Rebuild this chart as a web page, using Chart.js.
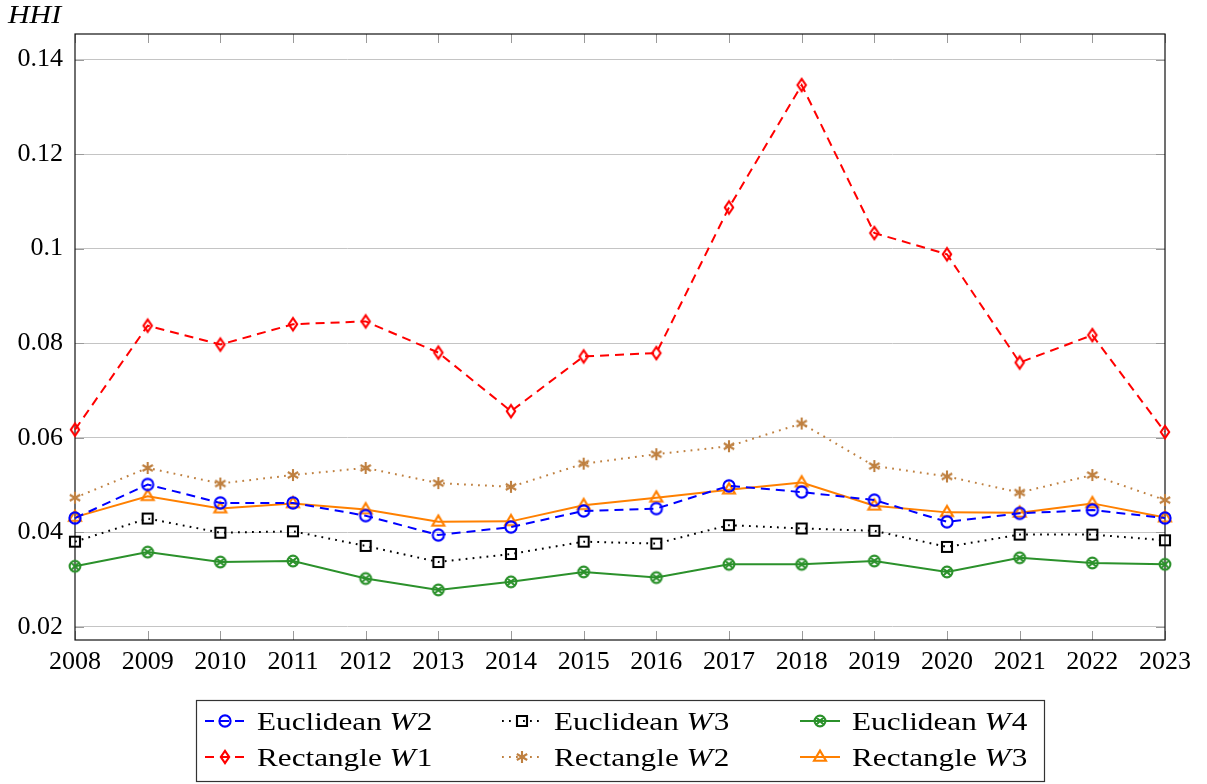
<!DOCTYPE html>
<html>
<head>
<meta charset="utf-8">
<script src="https://cdn.jsdelivr.net/npm/chart.js@4/dist/chart.umd.min.js"></script>
<style>
  html, body { margin: 0; background: #fff; }
</style>
</head>
<body>
<canvas id="hhiChart" width="1207" height="784"></canvas>
<script>
const years = ['2008', '2009', '2010', '2011', '2012', '2013', '2014', '2015',
               '2016', '2017', '2018', '2019', '2020', '2021', '2022', '2023'];

const euclidW2  = [0.0430, 0.0501, 0.0462, 0.0462, 0.0435, 0.0394, 0.0411, 0.0445, 0.0450, 0.0498, 0.0485, 0.0468, 0.0422, 0.0440, 0.0447, 0.0430];
const euclidW3  = [0.0380, 0.0429, 0.0399, 0.0402, 0.0371, 0.0337, 0.0354, 0.0380, 0.0376, 0.0415, 0.0408, 0.0403, 0.0369, 0.0395, 0.0395, 0.0383];
const euclidW4  = [0.0328, 0.0358, 0.0337, 0.0339, 0.0302, 0.0278, 0.0295, 0.0316, 0.0304, 0.0332, 0.0332, 0.0339, 0.0316, 0.0346, 0.0335, 0.0332];
const rectW1    = [0.0617, 0.0837, 0.0797, 0.0840, 0.0846, 0.0780, 0.0656, 0.0772, 0.0779, 0.1087, 0.1346, 0.1033, 0.0988, 0.0759, 0.0817, 0.0612];
const rectW2    = [0.0473, 0.0536, 0.0503, 0.0521, 0.0536, 0.0504, 0.0496, 0.0545, 0.0565, 0.0582, 0.0630, 0.0540, 0.0518, 0.0484, 0.0521, 0.0468];
const rectW3    = [0.0432, 0.0476, 0.0450, 0.0461, 0.0448, 0.0422, 0.0423, 0.0457, 0.0473, 0.0490, 0.0505, 0.0456, 0.0442, 0.0441, 0.0461, 0.0431];

const yTicks      = [0.02, 0.04, 0.06, 0.08, 0.1, 0.12, 0.14];
const yTickLabels = ['0.02', '0.04', '0.06', '0.08', '0.1', '0.12', '0.14'];

const SERIF = "'Liberation Serif', 'DejaVu Serif', serif";

// pgfplots-like unfilled markers drawn on small canvases
function makeMarker(kind, color) {
  const c = document.createElement('canvas');
  c.width = 22; c.height = 22;
  const g = c.getContext('2d');
  g.strokeStyle = color;
  g.lineWidth = 2.1;
  g.beginPath();
  if (kind === 'circle') {
    g.arc(11, 11, 5.6, 0, Math.PI * 2);
  } else if (kind === 'square') {
    g.rect(6, 6, 10, 10);
  } else if (kind === 'otimes') {
    g.arc(11, 11, 5.4, 0, Math.PI * 2);
    const d = 5.4 * Math.SQRT1_2;
    g.moveTo(11 - d, 11 - d); g.lineTo(11 + d, 11 + d);
    g.moveTo(11 + d, 11 - d); g.lineTo(11 - d, 11 + d);
  } else if (kind === 'diamond') {
    g.moveTo(11, 4.8); g.lineTo(15.2, 11); g.lineTo(11, 17.2); g.lineTo(6.8, 11); g.closePath();
  } else if (kind === 'asterisk') {
    for (let i = 0; i < 3; i++) {
      const a = Math.PI / 2 + i * Math.PI / 3;
      g.moveTo(11 + 6 * Math.cos(a), 11 - 6 * Math.sin(a));
      g.lineTo(11 - 6 * Math.cos(a), 11 + 6 * Math.sin(a));
    }
  } else if (kind === 'triangle') {
    g.moveTo(11, 4.6); g.lineTo(17, 14.8); g.lineTo(5, 14.8); g.closePath();
  }
  g.stroke();
  return c;
}

const series = [
  { label: 'Euclidean ', sub: '2', data: euclidW2, color: '#0000ff', dash: [9, 6],     marker: 'circle' },
  { label: 'Euclidean ', sub: '3', data: euclidW3, color: '#000000', dash: [1.8, 5.2], marker: 'square' },
  { label: 'Euclidean ', sub: '4', data: euclidW4, color: '#2b912b', dash: [],         marker: 'otimes' },
  { label: 'Rectangle ', sub: '1', data: rectW1,   color: '#ff0000', dash: [9, 6],     marker: 'diamond' },
  { label: 'Rectangle ', sub: '2', data: rectW2,   color: '#bf8040', dash: [1.8, 5.2], marker: 'asterisk' },
  { label: 'Rectangle ', sub: '3', data: rectW3,   color: '#ff8000', dash: [],         marker: 'triangle' }
];
series.forEach(s => { s.img = makeMarker(s.marker, s.color); });

// draws text stretched sideways a bit, closer to Computer Modern widths
function wideText(ctx, parts, x, y, stretch) {
  ctx.save();
  ctx.translate(x, y);
  ctx.scale(stretch, 1);
  let tx = 0;
  parts.forEach(([txt, font, gap]) => {
    ctx.font = font;
    ctx.fillText(txt, tx, 0);
    tx += ctx.measureText(txt).width + (gap || 0);
  });
  ctx.restore();
}

// axis frame, inward ticks, y label, and the boxed legend
const texFrame = {
  id: 'texFrame',
  beforeDatasetsDraw(chart) {
    const { ctx, chartArea: a, scales } = chart;
    ctx.save();
    ctx.strokeStyle = '#9a9a9a';
    ctx.lineWidth = 1;
    ctx.beginPath();
    yTicks.forEach(v => {
      const y = Math.round(scales.y.getPixelForValue(v)) + 0.5;
      ctx.moveTo(a.left, y); ctx.lineTo(a.left + 9, y);
      ctx.moveTo(a.right, y); ctx.lineTo(a.right - 9, y);
    });
    years.forEach((_, i) => {
      const x = Math.round(scales.x.getPixelForValue(i)) + 0.5;
      ctx.moveTo(x, a.top); ctx.lineTo(x, a.top + 9);
      ctx.moveTo(x, a.bottom); ctx.lineTo(x, a.bottom - 9);
    });
    ctx.stroke();
    ctx.strokeStyle = '#111';
    ctx.lineWidth = 1.2;
    ctx.strokeRect(a.left, a.top, a.right - a.left, a.bottom - a.top);
    ctx.restore();
  },
  afterDraw(chart) {
    const ctx = chart.ctx;
    ctx.save();
    ctx.fillStyle = '#000';
    ctx.textBaseline = 'alphabetic';
    wideText(ctx, [['HHI', 'italic 26px ' + SERIF]], 8, 23, 1.15);

    // legend box
    ctx.fillStyle = '#fff';
    ctx.fillRect(196, 700, 849, 82);
    ctx.strokeStyle = '#333';
    ctx.lineWidth = 1.2;
    ctx.strokeRect(196.5, 700.5, 848, 81);

    const colX = [205, 502, 800];
    const rowY = [721, 757];
    series.forEach((s, i) => {
      const x0 = colX[i % 3];
      const y0 = rowY[Math.floor(i / 3)];
      ctx.strokeStyle = s.color;
      ctx.lineWidth = 2;
      ctx.setLineDash(s.dash);
      ctx.beginPath();
      ctx.moveTo(x0, y0); ctx.lineTo(x0 + 40, y0);
      ctx.stroke();
      ctx.setLineDash([]);
      ctx.drawImage(s.img, x0 + 9, y0 - 11);

      ctx.fillStyle = '#000';
      wideText(ctx, [
        [s.label, '26px ' + SERIF],
        ['W', 'italic 26px ' + SERIF, 1],
        [s.sub, '26px ' + SERIF]
      ], x0 + 52, y0 + 9, 1.2);
    });
    ctx.restore();
  }
};

new Chart(document.getElementById('hhiChart'), {
  type: 'line',
  data: {
    labels: years,
    datasets: series.map(s => ({
      label: s.label + 'W' + s.sub,
      data: s.data,
      borderColor: s.color,
      backgroundColor: 'transparent',
      borderWidth: 2,
      borderDash: s.dash,
      tension: 0,
      pointStyle: s.img,
      pointRadius: 6,
      clip: false
    }))
  },
  options: {
    responsive: false,
    animation: false,
    layout: { padding: { left: 0, top: 34, right: 42, bottom: 104 } },
    plugins: { legend: { display: false }, tooltip: { enabled: false } },
    scales: {
      x: {
        type: 'category',
        offset: false,
        grid: { display: false, drawTicks: false },
        border: { display: false },
        ticks: { color: '#000', font: { family: SERIF, size: 26 }, padding: 7, maxRotation: 0, autoSkip: false },
        afterFit(s) { s.height = 40; }
      },
      y: {
        min: 0.0172,
        max: 0.1454,
        afterBuildTicks(s) { s.ticks = yTicks.map(v => ({ value: v })); },
        grid: { color: '#c4c4c4', lineWidth: 1, drawTicks: false },
        border: { display: false },
        ticks: {
          color: '#000',
          font: { family: SERIF, size: 26 },
          padding: 12,
          callback: v => yTickLabels[yTicks.findIndex(t => Math.abs(t - v) < 1e-9)]
        },
        afterFit(s) { s.width = 75; }
      }
    }
  },
  plugins: [texFrame]
});
</script>
</body>
</html>
